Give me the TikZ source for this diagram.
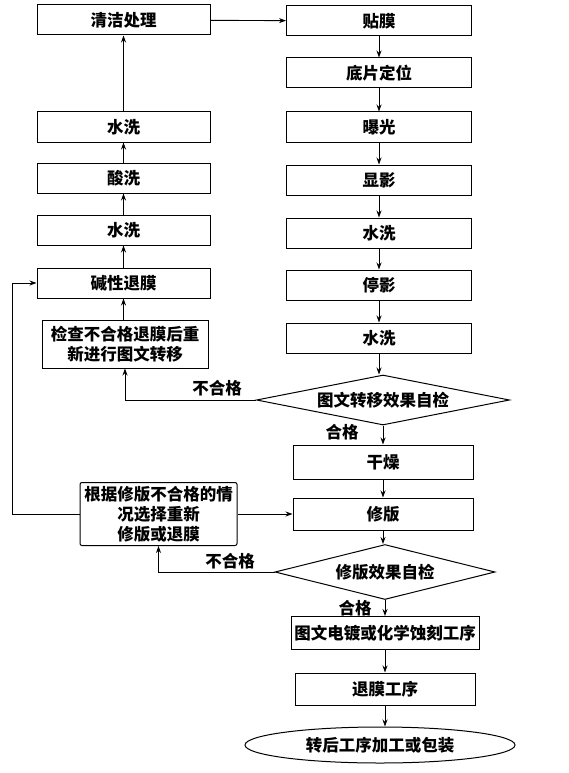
\documentclass[tikz,border=0pt]{standalone}
\usepackage{fontspec}
\setmainfont{Noto Sans CJK SC}
\usetikzlibrary{shapes.geometric,arrows.meta}
\newcommand{\fs}{\fontsize{16.5pt}{20pt}\selectfont\bfseries}
\tikzset{
  box/.style={draw, line width=1pt, inner sep=0pt, font=\fs, align=center},
  lbox/.style={box, minimum width=173pt, minimum height=30pt},
  rbox/.style={box, minimum width=185pt, minimum height=30pt},
  dia/.style={draw, line width=1pt, diamond, inner sep=0pt, font=\fs},
  arr/.style={-{Stealth[length=7pt,width=5pt]}, line width=0.9pt},
  lbl/.style={font=\fs, inner sep=0pt}
}
\begin{document}
\begin{tikzpicture}[x=1pt,y=-1pt]
\useasboundingbox (0,0) rectangle (568,773);
% left column
\node[lbox] (qj) at (123.5,20) {清洁处理};
\node[lbox] (sxa) at (123.5,127) {水洗};
\node[lbox] (sx) at (123.5,178) {酸洗};
\node[lbox] (sxb) at (123.5,230) {水洗};
\node[lbox] (jx) at (123.5,283) {碱性退膜};
\node[box, minimum width=166pt, minimum height=48pt] (jc) at (125,344) {检查不合格退膜后重\\新进行图文转移};
\node[box, rounded corners=2pt, minimum width=157pt, minimum height=63pt] (gj) at (158.5,514) {根据修版不合格的情\\况选择重新\\修版或退膜};
% right column
\node[rbox] (tm) at (379,21) {贴膜};
\node[rbox] (dp) at (379,73) {底片定位};
\node[rbox] (bg) at (379,127) {曝光};
\node[rbox] (xy) at (379,180) {显影};
\node[rbox] (sxc) at (379,233) {水洗};
\node[rbox] (ty) at (379,285) {停影};
\node[rbox] (sxd) at (379,338) {水洗};
\node[dia, aspect=5, minimum width=253pt, minimum height=50pt] (da) at (383,400) {图文转移效果自检};
\node[box, minimum width=180pt, minimum height=34pt] (gz) at (383,462) {干燥};
\node[box, minimum width=180pt, minimum height=32pt] (xb) at (383,514) {修版};
\node[dia, aspect=4, minimum width=220pt, minimum height=55pt] (db) at (385,572) {修版效果自检};
\node[box, minimum width=188pt, minimum height=33pt] (tw) at (385,633) {图文电镀或化学蚀刻工序};
\node[box, minimum width=180pt, minimum height=32pt] (tg) at (385,689) {退膜工序};
\node[draw, line width=1pt, ellipse, inner sep=0pt, minimum width=270pt, minimum height=36pt, font=\fs] (bz) at (380,745) {转后工序加工或包装};
\coordinate (lx) at (12,0);
% connectors
\draw[arr] (qj) -- (tm);
\draw[arr] (sxa) -- (qj);
\draw[arr] (sx) -- (sxa);
\draw[arr] (sxb) -- (sx);
\draw[arr] (jx) -- (sxb);
\draw[arr] (jc.north -| jx.south) -- (jx);
\draw[arr] (tm) -- (dp);
\draw[arr] (dp) -- (bg);
\draw[arr] (bg) -- (xy);
\draw[arr] (xy) -- (sxc);
\draw[arr] (sxc) -- (ty);
\draw[arr] (ty) -- (sxd);
\draw[arr] (sxd.south) -- (sxd.south |- da.north);
\draw[arr] (da.south) -- (gz.north);
\draw[arr] (gz) -- (xb);
\draw[arr] (xb.south) -- (xb.south |- db.north);
\draw[arr] (db.south) -- (tw.north);
\draw[arr] (tw) -- (tg);
\draw[arr] (tg.south) -- (tg.south |- bz.north);
\draw[arr] (da.west) -| (jc.south);
\draw[arr] (db.west) -| (gj.south);
\draw[arr] (gj.east) -- (xb.west);
\draw[arr] (gj.west) -- (gj.west -| lx) |- (jx.west);
% labels
\node[lbl] (l1) at (217,388) {不合格};
\node[lbl] (l2) at (342,432) {合格};
\node[lbl] (l3) at (230,561) {不合格};
\node[lbl] (l4) at (355,608) {合格};
\end{tikzpicture}
\end{document}
